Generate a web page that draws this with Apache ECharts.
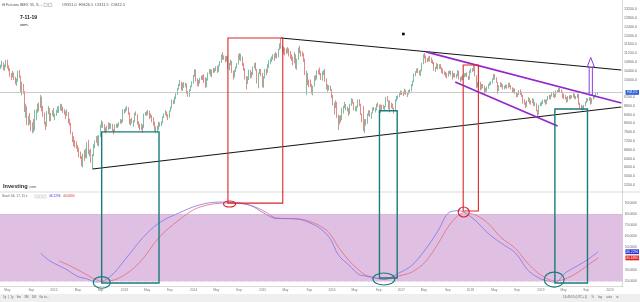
<!DOCTYPE html>
<html><head><meta charset="utf-8">
<script src="https://cdn.jsdelivr.net/npm/echarts@6/dist/echarts.min.js"></script>
<style>html,body{margin:0;padding:0;background:#fff}#c{width:640px;height:302px}</style>
</head><body><div id="c"></div>
<script>
// ---------- DATA (weekly, Futuros IBEX 35, first week 2011-03-28) ----------
const firstWeek = '2011-03-28';
const weekCount = 468; // axis runs to 2020-03-09
const open = [
10550,10600,10750,10480,10620,10850,10570,10480,10200,10150,10280,10050,9850,9920,10360,10150,9500,9750,9430,8630,8700,8000,8150,7980,7800,7950,7700,8550,8550,8800,8750,9200,8700,8430,8000,7900,8460,8650,8180,8400,
8560,8350,8380,8550,8700,8730,8750,8700,8550,8480,8380,8500,8050,8010,7560,7270,7120,7100,6930,6870,6550,6450,6060,6560,6530,6590,7100,6640,6700,6250,6570,6930,7170,7380,7070,7420,7880,8000,7950,7710,7750,7730,8000,7830,7950,7700,7640,7930,7930,7880,8000,8170,8080,
8600,8580,8650,8720,8480,7990,8140,8070,8070,8450,8400,8040,7920,7760,7900,7800,8420,8450,8390,8470,8320,8320,8190,7950,7760,7760,7810,8000,7900,8060,8270,8400,8530,8380,8290,8560,8700,9060,9000,9190,9340,9580,9750,9850,9560,9810,9680,9810,9400,9300,9500,9700,
9880,10160,10410,9950,9920,9860,10050,10120,10110,10070,9670,10030,10300,10420,10230,10410,10380,10460,10480,10390,10630,10800,11120,10960,11050,10860,11020,10540,10700,10800,10350,10150,10400,10550,10700,11090,10940,11000,10690,10500,10050,9900,10050,10400,10140,10240,10560,10650,10450,9860,10300,10450,
10280,9720,10120,10440,10400,10600,10840,10850,10990,11050,11020,11120,11060,11360,11600,11450,11450,11350,11330,11240,11400,11170,11040,10990,10760,11120,10690,10910,11400,11250,11180,11150,10900,10250,10270,9800,9780,9700,9520,9700,10120,10110,10370,10360,10250,10040,10340,10340,9960,9630,9630,9690,
9540,9200,8880,8780,8940,8320,7990,8280,8200,8680,8780,8850,8650,8660,8450,8860,9080,8960,8640,8660,8730,9060,8840,8400,8180,7790,8160,7990,8410,8560,8370,8470,8680,8640,8660,8830,8850,8490,8830,8780,8700,8760,9180,9020,8730,8880,8840,8690,8560,9060,9150,9240,
9350,9440,9400,9360,9510,9380,9350,9470,9490,9780,9900,10240,10340,10470,10350,10290,10400,10720,11120,11040,10890,10880,11000,10930,10830,10760,10450,10510,10700,10500,10620,10530,10370,10310,10310,10270,10150,10340,10300,10380,10180,10220,10200,10200,10370,10060,10050,10050,10150,10220,10230,10120,
10040,10380,10440,10410,10600,10180,9710,9820,9850,9590,9750,9690,9430,9600,9610,9770,9820,9880,10000,10200,10050,9880,9520,9700,9820,9750,9620,9650,9730,9620,9800,9720,9620,9430,9570,9400,9280,9330,9480,9390,9280,8980,8900,8770,9010,9100,8980,8950,9080,8860,8900,8580,8500,
8830,8900,8950,9030,9040,8920,9070,9220,9140,9260,9400,9300,9230,9460,9470,9560,9460,9420,9280,9240,9160,9000,9220,9150,9250,9190,9320,9160,9180,9300,8870,8800,8650,8770,8810,8960,9090,9070,9170,8970,9120,9190,9270,9351
];
const high = [
10680,10860,10780,10680,10900,10900,10650,10530,10300,10400,10320,10130,10050,10400,10440,10180,9900,9800,9480,8900,8780,8350,8480,8150,8050,8200,8620,8640,8900,8950,9300,9220,8800,8500,8080,8560,8800,8700,8480,8600,
8700,8450,8620,8780,8800,8900,8880,8760,8650,8560,8640,8520,8220,8030,7620,7420,7250,7180,7020,6900,6720,6520,6620,6800,6850,7150,7250,6800,6850,6600,7050,7220,7420,7450,7460,7950,8150,8080,7960,7820,7900,8050,8020,8000,7980,7740,7960,8000,7990,8060,8200,8180,8650,
8650,8720,8800,8740,8500,8200,8260,8150,8480,8550,8420,8100,7980,8000,7950,8450,8520,8560,8620,8580,8460,8380,8280,8080,7860,7900,8080,8050,8100,8320,8450,8600,8550,8420,8600,8760,9100,9080,9220,9380,9620,9800,9980,9900,9850,9880,9850,9820,9480,9560,9720,9920,
10220,10480,10450,10050,9980,10080,10180,10200,10250,10100,10080,10320,10480,10480,10440,10520,10520,10600,10620,10680,10840,11150,11250,11100,11080,11080,11060,10760,10900,10850,10400,10450,10600,10750,11150,11200,11180,11050,10750,10520,10150,10150,10450,10450,10350,10600,10750,10780,10480,10320,10480,10480,
10300,10150,10480,10500,10700,10880,10960,11050,11150,11180,11250,11200,11400,11650,11890,11560,11500,11450,11420,11480,11420,11300,11150,11050,11250,11150,10950,11450,11550,11320,11280,11200,10950,10400,10300,10000,10000,9800,9720,10180,10200,10420,10450,10550,10300,10380,10420,10480,10050,9780,9750,9720,
9560,9300,8950,9050,8980,8400,8350,8380,8720,8800,8980,8880,8760,8700,8900,9150,9120,8980,8780,8800,9100,9100,8900,8450,8800,8200,8200,8450,8600,8600,8500,8720,8750,8720,8900,8950,8860,8860,8850,8850,8800,9200,9250,9050,9050,8950,8900,8720,9100,9250,9280,9380,
9500,9480,9450,9580,9530,9420,9520,9560,9800,9950,10280,10380,10500,10520,10420,10450,10760,11150,11220,11100,10980,11050,11080,11000,10900,10800,10580,10750,10720,10700,10700,10560,10500,10380,10350,10300,10380,10420,10400,10400,10280,10300,10250,10420,10400,10120,10150,10200,10280,10300,10320,10160,
10420,10500,10520,10650,10620,10200,9880,9950,9900,9800,9800,9720,9620,9680,9800,9880,9920,10050,10250,10250,10100,9900,9750,9880,9850,9780,9720,9780,9760,9850,9850,9750,9650,9600,9600,9420,9380,9520,9550,9450,9300,9100,8980,9050,9200,9150,9050,9150,9120,8980,8920,8620,8850,
8950,9000,9080,9100,9080,9100,9250,9300,9300,9420,9450,9350,9500,9520,9600,9620,9550,9450,9350,9300,9200,9250,9280,9300,9280,9380,9350,9250,9350,9350,8950,8850,8800,8850,9000,9150,9150,9200,9200,9150,9250,9300,9400,9426.5
];
const low = [
10480,10560,10420,10400,10560,10500,10380,10120,9980,10100,9980,9780,9720,9900,10080,9420,9280,9350,8520,8250,7920,7900,7950,7650,7550,7600,7680,8150,8480,8550,8700,8550,8300,7950,7700,7850,8420,8100,8100,8350,
8280,8150,8350,8480,8480,8600,8560,8480,8400,8200,8340,8000,7900,7500,7150,6960,6900,6850,6700,6450,6380,6050,6000,6300,6420,6400,6600,6500,6200,5950,6500,6880,7120,7000,6950,7380,7800,7800,7600,7550,7600,7700,7750,7750,7650,7500,7600,7800,7780,7860,7980,8000,8050,
8450,8500,8580,8400,7950,7900,8000,7850,8050,8360,7950,7800,7680,7700,7560,7780,8350,8350,8380,8200,8250,8050,7900,7650,7550,7600,7700,7850,7880,8000,8250,8380,8300,8150,8250,8540,8680,8880,8900,9100,9300,9540,9700,9500,9480,9620,9650,9350,9220,9200,9480,9650,
9820,10120,9920,9700,9680,9820,9980,9980,9850,9620,9650,9950,10250,10150,10100,10300,10320,10380,10300,10350,10600,10760,10900,10900,10780,10820,10480,10420,10650,10300,10000,10100,10350,10500,10680,10880,10850,10620,10400,10000,9550,9800,9980,10050,10080,10200,10500,10400,9820,9600,10250,10150,
9650,9620,10050,10200,10300,10520,10700,10800,10900,10850,10980,10950,11020,11340,11400,11250,11150,11100,11150,11200,11050,10950,10850,10650,10740,10500,10450,10900,11200,11050,11050,10800,10200,9300,9750,9650,9650,9350,9280,9680,9950,10000,10250,10200,9980,9950,10200,9900,9550,9450,9500,9480,
9150,8820,8400,8700,8250,7700,7950,8050,8150,8450,8700,8600,8550,8350,8420,8800,8900,8600,8550,8550,8720,8780,8380,8050,7650,7550,7900,7980,8350,8300,8200,8450,8580,8500,8600,8750,8450,8480,8600,8650,8600,8750,9000,8650,8500,8700,8650,8450,8550,9000,9100,9200,
9300,9300,9250,9330,9300,9200,9320,9380,9460,9700,9880,10150,10300,10300,10200,10150,10380,10700,10950,10750,10800,10820,10820,10750,10700,10400,10350,10480,10450,10480,10480,10300,10250,10200,10100,10050,10130,10250,10180,10000,10100,10080,10050,10150,10000,9880,9950,9980,10100,10150,10100,9980,
10000,10300,10350,10380,10150,9600,9650,9750,9500,9550,9600,9330,9400,9450,9580,9720,9750,9820,9980,10000,9850,9350,9480,9650,9650,9550,9550,9600,9580,9600,9650,9550,9380,9400,9350,9200,9200,9300,9300,9200,8900,8850,8700,8750,8980,8900,8850,8920,8800,8780,8550,8300,8400,
8780,8800,8880,8950,8850,8880,9050,9100,9100,9220,9200,9150,9200,9400,9420,9420,9380,9150,9100,9100,8950,8980,9100,9100,9150,9180,9120,9100,9150,8850,8700,8620,8600,8650,8780,8920,9000,9020,8850,8900,9080,9150,9200,9311.5
];
const close = [
10600,10750,10480,10620,10850,10570,10480,10200,10150,10280,10050,9850,9920,10360,10150,9500,9750,9430,8630,8700,8000,8150,7980,7800,7950,7700,8550,8550,8800,8750,9200,8700,8430,8000,7900,8460,8650,8180,8400,8560,
8350,8380,8550,8700,8730,8750,8700,8550,8480,8380,8500,8050,8010,7560,7270,7120,7100,6930,6870,6550,6450,6060,6560,6530,6590,7100,6640,6700,6250,6570,6930,7170,7380,7070,7420,7880,8000,7950,7710,7750,7730,8000,7830,7950,7700,7640,7930,7930,7880,8000,8170,8080,8600,
8580,8650,8720,8480,7990,8140,8070,8070,8450,8400,8040,7920,7760,7900,7800,8420,8450,8390,8470,8320,8320,8190,7950,7760,7760,7810,8000,7900,8060,8270,8400,8530,8380,8290,8560,8700,9060,9000,9190,9340,9580,9750,9850,9560,9810,9680,9810,9400,9300,9500,9700,9880,
10160,10410,9950,9920,9860,10050,10120,10110,10070,9670,10030,10300,10420,10230,10410,10380,10460,10480,10390,10630,10800,11120,10960,11050,10860,11020,10540,10700,10800,10350,10150,10400,10550,10700,11090,10940,11000,10690,10500,10050,9900,10050,10400,10140,10240,10560,10650,10450,9860,10300,10450,10280,
9720,10120,10440,10400,10600,10840,10850,10990,11050,11020,11120,11060,11360,11600,11450,11450,11350,11330,11240,11400,11170,11040,10990,10760,11120,10690,10910,11400,11250,11180,11150,10900,10250,10270,9800,9780,9700,9520,9700,10120,10110,10370,10360,10250,10040,10340,10340,9960,9630,9630,9690,9540,
9200,8880,8780,8940,8320,7990,8280,8200,8680,8780,8850,8650,8660,8450,8860,9080,8960,8640,8660,8730,9060,8840,8400,8180,7790,8160,7990,8410,8560,8370,8470,8680,8640,8660,8830,8850,8490,8830,8780,8700,8760,9180,9020,8730,8880,8840,8690,8560,9060,9150,9240,9350,
9440,9400,9360,9510,9380,9350,9470,9490,9780,9900,10240,10340,10470,10350,10290,10400,10720,11120,11040,10890,10880,11000,10930,10830,10760,10450,10510,10700,10500,10620,10530,10370,10310,10310,10270,10150,10340,10300,10380,10180,10220,10200,10200,10370,10060,10050,10050,10150,10220,10230,10120,10040,
10380,10440,10410,10600,10180,9710,9820,9850,9590,9750,9690,9430,9600,9610,9770,9820,9880,10000,10200,10050,9880,9520,9700,9820,9750,9620,9650,9730,9620,9800,9720,9620,9430,9570,9400,9280,9330,9480,9390,9280,8980,8900,8770,9010,9100,8980,8950,9080,8860,8900,8580,8500,8830,
8900,8950,9030,9040,8920,9070,9220,9140,9260,9400,9300,9230,9460,9470,9560,9460,9420,9280,9240,9160,9000,9220,9150,9250,9190,9320,9160,9180,9300,8870,8800,8650,8770,8810,8960,9090,9070,9170,8970,9120,9190,9270,9350,9412.5
];
const stochK = [['2011-10-24',45],['2011-12-12',38],['2012-03-12',30],['2012-04-30',24.5],['2012-06-25',21.8],['2012-08-13',19],['2012-10-22',23.6],['2013-01-21',41.5],['2013-04-15',59],['2013-07-08',72],['2013-10-21',81],['2014-02-03',88],['2014-05-19',90.7],['2014-07-14',90.5],['2014-10-27',88],['2015-01-19',80],['2015-03-16',76],['2015-05-04',76],['2015-07-13',75.5],['2015-08-17',73.7],['2015-10-26',68],['2015-12-21',59],['2016-02-08',43],['2016-04-04',34],['2016-05-23',26],['2016-06-27',24.5],['2016-08-22',22.7],['2016-10-03',21.5],['2016-12-19',27],['2017-02-27',34],['2017-05-08',48],['2017-07-17',65.5],['2017-09-04',80.5],['2017-10-30',83],['2017-12-04',81],['2018-01-29',74],['2018-04-02',63],['2018-06-11',54],['2018-08-27',45],['2018-10-29',30],['2018-12-24',23],['2019-02-11',20],['2019-03-25',19],['2019-05-13',27],['2019-07-22',34],['2019-09-09',39],['2019-11-04',46.2296]];
const stochD = [['2012-01-30',38],['2012-04-09',32.5],['2012-06-25',25.4],['2012-08-13',21],['2012-09-10',19.5],['2012-12-10',22.7],['2013-03-25',36],['2013-07-08',59],['2013-10-21',74.6],['2014-02-03',86],['2014-07-14',90],['2014-10-27',88],['2015-01-19',82],['2015-03-16',76.5],['2015-07-13',75.5],['2015-08-17',74.6],['2015-10-26',70],['2015-12-21',63],['2016-02-08',50],['2016-04-04',38],['2016-05-23',30],['2016-06-27',25.4],['2016-08-22',22.7],['2016-10-03',21.5],['2016-12-19',24.5],['2017-02-27',28],['2017-05-08',37],['2017-07-17',54],['2017-09-04',68],['2017-10-30',79],['2017-12-04',81],['2018-01-29',79],['2018-04-02',72],['2018-06-11',59],['2018-08-27',49],['2018-10-29',36],['2018-12-24',27],['2019-02-11',21.8],['2019-03-25',20],['2019-05-27',22.7],['2019-07-22',28],['2019-09-09',34],['2019-11-04',40.669]];
const priceTicks = [5200,5600,6000,6400,6800,7200,7600,8000,8400,8800,9200,10000,10400,10800,11200,11600,12000,12400,12800,13200];
const stochTicks = [20,30,50,60,70,80,90];
const labelMonths = [0,4,8];
const monthNames = {4:'May', 8:'Sep'};
// hand-drawn annotations, in data coordinates
const trendLines = [
  {kind:'black',  from:['2012-07-23',5924],  to:['2020-03-09',8749]},
  {kind:'black',  from:['2015-04-13',11892], to:['2020-03-09',10434]},
  {kind:'purple', from:['2017-05-15',11255], to:['2020-03-09',8931]},
  {kind:'purple', from:['2017-10-16',9888],  to:['2019-04-08',7883]}
];
const boxes = [ // top in price, bottom in stochastic value
  {kind:'red',  left:'2014-07-07', right:'2015-04-20', top:11892, bottom:89.8},
  {kind:'red',  left:'2017-11-27', right:'2018-02-12', top:10662, bottom:82.7},
  {kind:'teal', left:'2012-09-10', right:'2013-07-08', top:7615,  bottom:18.2},
  {kind:'teal', left:'2016-09-12', right:'2016-12-12', top:8580,  bottom:22.7},
  {kind:'teal', left:'2019-03-25', right:'2019-09-09', top:8658,  bottom:18.2}
];
const rings = [ // stochastic-pane circles
  {kind:'red',  at:'2014-07-14', value:89,   rx:6,   ry:3},
  {kind:'red',  at:'2017-11-27', value:81.8, rx:5.5, ry:5},
  {kind:'teal', at:'2012-09-10', value:18.7, rx:8.5, ry:5.8},
  {kind:'teal', at:'2016-10-03', value:21.8, rx:11,  ry:6},
  {kind:'teal', at:'2019-03-18', value:21.3, rx:10,  ry:7.5}
];
const arrowMark = {at:'2019-09-30', base:9296, head:10571, tip:11004};
const dotMark = {at:'2017-01-16', value:12075};

// ---------- CHART ----------
const FONT = "'Liberation Sans', Arial, sans-serif";
const COL = {black:'#151515', purple:'#9526cc', red:'#d8262c', teal:'#1a7b7c', arrow:'#8c3ee0'};
const chart = echarts.init(document.getElementById('c'), null, {renderer:'canvas', width:640, height:302});
const cats = [];
const t0 = Date.UTC(2011, 2, 28);
for (let i = 0; i < weekCount; i++) cats.push(new Date(t0 + i * 604800000).toISOString().slice(0, 10));
const candles = close.map((c, i) => [open[i], c, low[i], high[i]]);
const lastClose = close[close.length - 1];
const isLabelWeek = v => { const d = new Date(v + 'T00:00:00Z'); return d.getUTCDate() <= 7 && labelMonths.includes(d.getUTCMonth()); };

chart.setOption({
  animation: false,
  backgroundColor: '#fff',
  textStyle: {fontFamily: FONT},
  grid: [
    {left: 0, right: 15, top: 0.52, height: 191.4},
    {left: 0, right: 15, top: 191.7, height: 94.9}
  ],
  xAxis: [
    {type:'category', gridIndex:0, data:cats, axisLine:{show:false}, axisTick:{show:false}, axisLabel:{show:false}, splitLine:{show:false}},
    {type:'category', gridIndex:1, data:cats, axisLine:{show:true, lineStyle:{color:'#cfcfcf', width:0.8}}, axisTick:{show:false}, splitLine:{show:false},
     axisLabel:{interval:(i, v) => isLabelWeek(v), formatter:v => { const d = new Date(v + 'T00:00:00Z'); const m = d.getUTCMonth(); return m === 0 ? String(d.getUTCFullYear()) : monthNames[m]; }, fontSize:3.2, color:'#777', margin:2.4}}
  ],
  yAxis: [
    {type:'value', gridIndex:0, position:'right', min:4880, max:13600, scale:true, axisLine:{show:true, lineStyle:{color:'#cfcfcf', width:0.8}}, axisTick:{show:false}, splitLine:{show:false},
     axisLabel:{customValues:priceTicks, formatter:v => v.toFixed(1), fontSize:3.6, color:'#6a6a6a', margin:2}},
    {type:'value', gridIndex:1, position:'right', min:15, max:100, axisLine:{show:true, lineStyle:{color:'#cfcfcf', width:0.8}}, axisTick:{show:false}, splitLine:{show:false},
     axisLabel:{customValues:stochTicks, formatter:v => v.toFixed(4), fontSize:3.4, color:'#6a6a6a', margin:2}}
  ],
  series: [
    {type:'candlestick', name:'Futuros IBEX 35', xAxisIndex:0, yAxisIndex:0, data:candles, barWidth:0.9,
     itemStyle:{color:'#45a281', color0:'#d35c56', borderColor:'#45a281', borderColor0:'#d35c56', borderWidth:0.7},
     markLine:{silent:true, symbol:'none', label:{show:false}, lineStyle:{color:'#bcbcbc', width:0.8, type:'solid'}, data:[{yAxis:lastClose}]}},
    {type:'line', name:'%D', xAxisIndex:1, yAxisIndex:1, data:stochD, smooth:0.35, showSymbol:false, lineStyle:{color:'#e66a78', width:0.8},
     markArea:{silent:true, itemStyle:{color:'#dfc0e2'}, data:[[{yAxis:20},{yAxis:80}]]},
     markLine:{silent:true, symbol:'none', label:{show:false}, lineStyle:{color:'#cfaed4', width:0.8, type:'dotted'}, data:[{yAxis:20},{yAxis:80}]}},
    {type:'line', name:'%K', xAxisIndex:1, yAxisIndex:1, data:stochK, smooth:0.35, showSymbol:false, lineStyle:{color:'#8074e6', width:0.8}}
  ]
});

// ---------- ANNOTATIONS (placed through the chart's own scales) ----------
const P = (d, v) => chart.convertToPixel({gridIndex:0}, [d, v]);
const S = (d, v) => chart.convertToPixel({gridIndex:1}, [d, v]);
const g = [];
g.push({type:'line', z:40, shape:{x1:0, y1:192, x2:640, y2:192}, style:{stroke:'#d2d2d2', lineWidth:0.8}});
trendLines.forEach(t => {
  const a = P(t.from[0], t.from[1]), b = P(t.to[0], t.to[1]);
  g.push({type:'line', z:60, shape:{x1:a[0], y1:a[1], x2:b[0], y2:b[1]}, style:{stroke:COL[t.kind], lineWidth:t.kind === 'purple' ? 1.8 : 1.1}});
});
boxes.forEach(b => {
  const a = P(b.left, b.top), c = S(b.right, b.bottom);
  g.push({type:'rect', z:60, shape:{x:a[0], y:a[1], width:c[0] - a[0], height:c[1] - a[1]}, style:{fill:'none', stroke:COL[b.kind], lineWidth:b.kind === 'teal' ? 1.4 : 1.1}});
});
rings.forEach(r => {
  const c = S(r.at, r.value);
  g.push({type:'ellipse', z:61, shape:{cx:c[0], cy:c[1], rx:r.rx, ry:r.ry}, style:{fill:'none', stroke:COL[r.kind], lineWidth:1.2}});
});
{
  const b = P(arrowMark.at, arrowMark.base), h = P(arrowMark.at, arrowMark.head), t = P(arrowMark.at, arrowMark.tip);
  const x = b[0];
  g.push({type:'polygon', z:62, shape:{points:[[x - 1.6, b[1]], [x - 1.6, h[1]], [x - 3.6, h[1]], [x, t[1]], [x + 3.6, h[1]], [x + 1.6, h[1]], [x + 1.6, b[1]]]}, style:{fill:'none', stroke:COL.arrow, lineWidth:1}});
}
{
  const d = P(dotMark.at, dotMark.value);
  g.push({type:'rect', z:62, shape:{x:d[0] - 1.3, y:d[1] - 1.3, width:2.6, height:2.6}, style:{fill:'#000'}});
}
// header / legend texts
const txt = (x, y, text, size, fill, extra) => g.push(Object.assign({type:'text', z:80, x:x, y:y, style:Object.assign({text:text, fontSize:size, fill:fill, fontFamily:FONT, verticalAlign:'middle'}, extra || {})}));
txt(2, 5, '\u229f Futuros IBEX 35, S, -', 3.8, '#555');
g.push({type:'rect', z:80, shape:{x:44, y:3.3, width:3.2, height:3.2}, style:{fill:'none', stroke:'#999', lineWidth:0.5}});
g.push({type:'rect', z:80, shape:{x:48.5, y:3.3, width:3.2, height:3.2}, style:{fill:'none', stroke:'#999', lineWidth:0.5}});
txt(62, 5, 'O9351.0  H9426.5  L9311.5  C9412.5', 3.8, '#555');
txt(20, 18, '7-11-19', 5, '#1a1a1a', {fontWeight:'bold'});
txt(20, 24.5, 'sem.', 4, '#1a1a1a');
txt(3, 186, 'Investing', 5.6, '#2a2a2a', {fontWeight:'bold'});
txt(28.5, 186.6, '.com', 3.6, '#555');
txt(2, 196.5, 'Stoch 66, 17, 15 \u25be', 3.2, '#666');
g.push({type:'rect', z:80, shape:{x:35, y:195, width:3, height:3}, style:{fill:'none', stroke:'#aaa', lineWidth:0.4}});
g.push({type:'rect', z:80, shape:{x:39, y:195, width:3, height:3}, style:{fill:'none', stroke:'#aaa', lineWidth:0.4}});
g.push({type:'rect', z:80, shape:{x:43, y:195, width:3, height:3}, style:{fill:'none', stroke:'#aaa', lineWidth:0.4}});
txt(49, 196.5, stochK[stochK.length - 1][1].toFixed(4), 3.2, '#3a3ad8');
txt(63, 196.5, stochD[stochD.length - 1][1].toFixed(4), 3.2, '#d83030');
// last-value tags on the right axis
const tag = (y, text, fill) => {
  g.push({type:'rect', z:85, shape:{x:625.5, y:y - 2.4, width:13.5, height:4.8}, style:{fill:fill}});
  g.push({type:'text', z:86, x:632.2, y:y, style:{text:text, fontSize:3.4, fill:'#fff', fontFamily:FONT, align:'center', verticalAlign:'middle'}});
};
tag(P(cats[0], lastClose)[1], lastClose.toFixed(1), '#2f62d8');
tag(S(cats[0], stochK[stochK.length - 1][1])[1], stochK[stochK.length - 1][1].toFixed(4), '#2430d8');
tag(S(cats[0], stochD[stochD.length - 1][1])[1], stochD[stochD.length - 1][1].toFixed(4), '#e01e1e');
// bottom toolbar
g.push({type:'rect', z:70, shape:{x:0, y:294, width:640, height:8}, style:{fill:'#efefef'}});
txt(3, 297.6, '5y  |  1y    6m    3M    1M    Go to...', 3, '#666');
txt(563, 297.6, '14:49:55 (UTC+1)     %     log     auto     \u2699', 3, '#666');
chart.setOption({graphic: g});
</script>
</body></html>
